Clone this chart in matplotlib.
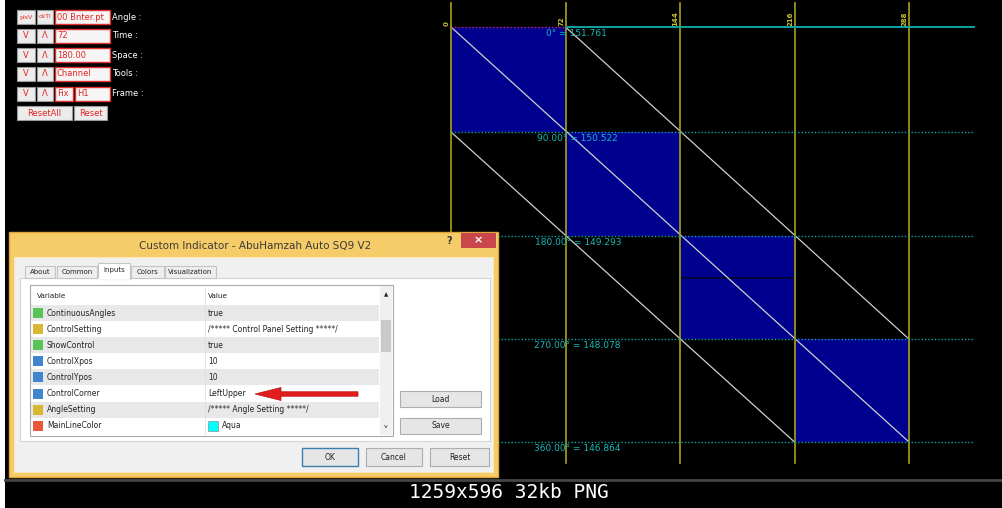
"""MT4 screenshot: Square-of-9 angle levels + indicator input dialog."""
import matplotlib
matplotlib.use("Agg")
import matplotlib.pyplot as plt
from matplotlib.patches import Rectangle, FancyArrow

# ---- chart data ----
angles = ["0°", "90.00°", "180.00°", "270.00°", "360.00°"]
prices = [151.761, 150.522, 149.293, 148.078, 146.864]
times = [0, 72, 144, 216, 288]
label_t = [60, 54, 53, 52, 52]
line_end = 329
mid_line = 148.80
# diagonals as (time idx, price idx) -> (time idx, price idx)
diagonals = [((0, 0), (4, 4)), ((1, 0), (4, 3)), ((0, 1), (3, 4))]

# ---- control panel ----
panel_labels = ["Angle :", "Time :", "Space :", "Tools :", "Frame :"]
panel_values = ["00 Bnter.pt", "72", "180.00", "Channel", "H1"]

# ---- dialog ----
tabs = ["About", "Common", "Inputs", "Colors", "Visualization"]
var_names = ["ContinuousAngles", "ControlSetting", "ShowControl", "ControlXpos",
             "ControlYpos", "ControlCorner", "AngleSetting", "MainLineColor"]
var_values = ["true", "/***** Control Panel Setting *****/", "true", "10", "10",
              "LeftUpper", "/***** Angle Setting *****/", "Aqua"]
var_types = ["bool", "str", "bool", "int", "int", "int", "str", "color"]

BLUE, YEL, TEAL, TEAL_T = "#00008f", "#a8a21a", "#0fa3a3", "#19b8b8"
RED = "#e52525"
W, H, CH = 1002, 508, 478

fig = plt.figure(figsize=(W / 100, H / 100), dpi=100, facecolor="black")

# ================= chart =================
ax = fig.add_axes([0, 1 - CH / H, 1, CH / H])
x0px, x1px, y0px, y1px = 451, 909, 27, 442
xs = (x1px - x0px) / (times[-1] - times[0])
ys = (y1px - y0px) / (prices[0] - prices[-1])
ax.set_xlim(times[0] - x0px / xs, times[0] + (W - x0px) / xs)
ax.set_ylim(prices[0] - (CH - y0px) / ys, prices[0] + y0px / ys)
ax.axis("off")

for i in range(len(times) - 1):
    ax.fill_between([times[i], times[i + 1]], prices[i + 1], prices[i], color=BLUE, lw=0, zorder=1)
ax.plot([times[2], times[3]], [mid_line] * 2, color="#03032a", lw=1.2, zorder=2)

for (a, c), (b, d) in diagonals:
    ax.plot([times[a], times[b]], [prices[c], prices[d]], color="#cfcfcf", lw=0.9, zorder=2)

for t in times:
    ax.axvline(t, ymin=1 - 463 / CH, ymax=1 - 3 / CH, color=YEL, lw=1.2, zorder=3)
    ax.annotate(str(t), (t, prices[0]), xytext=(-1, 1), textcoords="offset points",
                rotation=90, ha="right", va="bottom", fontsize=5, color="#c8c030",
                weight="bold")

ax.plot([times[1], line_end], [prices[0]] * 2, color=TEAL, lw=1.4, zorder=4)
ax.plot([times[0], times[1]], [prices[0]] * 2, color="#d0204a", ls=(0, (1, 1.5)), lw=1, zorder=4)
for p in prices[1:]:
    ax.plot([times[0], line_end], [p, p], color=TEAL, ls=(0, (1, 1.4)), lw=1, zorder=4)
for a, p, t in zip(angles, prices, label_t):
    ax.annotate(f"{a} = {p:.3f}", (t, p), xytext=(0, -1.5), textcoords="offset points",
                ha="left", va="top", fontsize=6.5, color=TEAL_T, zorder=5)

# ================= UI overlay (pixel coords) =================
ui = fig.add_axes([0, 0, 1, 1], zorder=5)
ui.set_xlim(0, W); ui.set_ylim(H, 0); ui.axis("off")

def box(x0, y0, x1, y1, fc, ec="none", lw=0.8, **kw):
    ui.add_patch(Rectangle((x0, y0), x1 - x0, y1 - y0, fc=fc, ec=ec, lw=lw, **kw))

def txt(x, y, s, size=5.5, color="#222222", ha="left", **kw):
    ui.text(x, y, s, fontsize=size, color=color, ha=ha, va="center", **kw)

box(0, 0, 5, H, "white")
ui.plot([5, W], [480, 480], color="#454545", lw=2)
txt(509, 493, "1259x596 32kb PNG", size=14, color="white", ha="center", family="DejaVu Sans Mono")

# control panel
def button(x0, y0, x1, y1, s, size=6):
    box(x0, y0, x1, y1, "#ececec", "#9a9a9a")
    txt((x0 + x1) / 2, (y0 + y1) / 2, s, size=size, color=RED, ha="center")

def field(x0, y0, x1, y1, s):
    box(x0, y0, x1, y1, "#f5f5f5", "#e03030", lw=1)
    txt(x0 + 2, (y0 + y1) / 2, s, size=6, color=RED)

rows_y = [17, 36, 55, 74, 94]
for i, (lab, val) in enumerate(zip(panel_labels, panel_values)):
    y0, y1 = rows_y[i] - 7, rows_y[i] + 7
    if i == 0:
        button(17, y0, 35, y1, "plsV", size=4.5)
        button(37, y0, 53, y1, "ckTi", size=4.5)
    else:
        button(17, y0, 35, y1, "V")
        button(37, y0, 53, y1, "Λ")
    if i == 4:
        field(55, y0, 73, y1, "Fix")
        field(75, y0, 110, y1, val)
    else:
        field(55, y0, 110, y1, val)
    txt(112, rows_y[i], lab, size=6, color="white")
button(17, 106, 72, 120, "ResetAll")
button(74, 106, 107, 120, "Reset")

# dialog frame
box(9, 232, 498, 477, "#f6cc68", "#dfa53a", lw=1)
txt(255, 246, "Custom Indicator - AbuHamzah Auto SQ9 V2", size=7.5, color="#3a3a3a", ha="center")
txt(449, 241, "?", size=7, color="#333333", ha="center", weight="bold")
box(461, 233, 496, 248, "#c9464a")
txt(478.5, 240.5, "×", size=8, color="white", ha="center", weight="bold")
box(14, 257, 493, 472, "#f0f0f0", "#fbe7b8", lw=0.6)

# tabs + pane
box(20, 278, 490, 441, "white", "#d4d4d4")
tab_x = [(25, 55), (57, 97), (98, 130), (131, 164), (165, 216)]
for (x0, x1), name in zip(tab_x, tabs):
    if name == "Inputs":
        box(x0, 263, x1, 279, "white", "#c4c4c4", zorder=3)
        ui.plot([x0 + 0.6, x1 - 0.6], [278.6, 278.6], color="white", lw=1.2, zorder=4)
        txt((x0 + x1) / 2, 270, name, size=5, ha="center", zorder=5)
    else:
        box(x0, 266, x1, 278, "#eeeeee", "#c4c4c4")
        txt((x0 + x1) / 2, 272, name, size=5, ha="center")

# list view
box(30, 285, 393, 436, "white", "#a8a8a8")
txt(37, 296, "Variable", size=5.2)
txt(208, 296, "Value", size=5.2)
ui.plot([205, 205], [287, 434], color="#e0e0e0", lw=0.6)
icon_c = {"bool": "#58c458", "str": "#d8b832", "int": "#3f86cc", "color": "#e8573a"}
for i, (nm, val, tp) in enumerate(zip(var_names, var_values, var_types)):
    yc = 313 + 16.1 * i
    if i % 2 == 0:
        box(31, yc - 8, 379, yc + 8, "#e8e8e8")
    box(33, yc - 5, 43, yc + 5, icon_c[tp])
    txt(47, yc, nm, size=5.5)
    if tp == "color":
        box(208, yc - 5, 218, yc + 5, "#00ffff", "#7a7a7a", lw=0.4)
        txt(222, yc, val, size=5.5)
    else:
        txt(208, yc, val, size=5.5)
box(380, 286, 392, 435, "#f0f0f0")
box(381, 320, 391, 352, "#c9c9c9")
txt(386, 295, "▲", size=4, ha="center")
txt(386, 427, "v", size=4.5, ha="center")

# buttons
for (x0, y0, x1, y1), s in zip([(400, 391, 481, 407), (400, 418, 481, 434), (302, 448, 358, 466),
                                (366, 448, 422, 466), (430, 448, 489, 466)],
                               ["Load", "Save", "OK", "Cancel", "Reset"]):
    box(x0, y0, x1, y1, "#e6e6e6", "#3c7fb1" if s == "OK" else "#adadad", lw=1 if s == "OK" else 0.8)
    txt((x0 + x1) / 2, (y0 + y1) / 2, s, size=5.5, ha="center")

ui.add_patch(FancyArrow(358, 394, -103, 0, width=4.5, head_width=13, head_length=26,
                        length_includes_head=True, fc="#e21d1d", ec="#b51515", lw=0.5, zorder=6))

fig.savefig("out.png", dpi=100, facecolor="black")
print("wrote out.png")
